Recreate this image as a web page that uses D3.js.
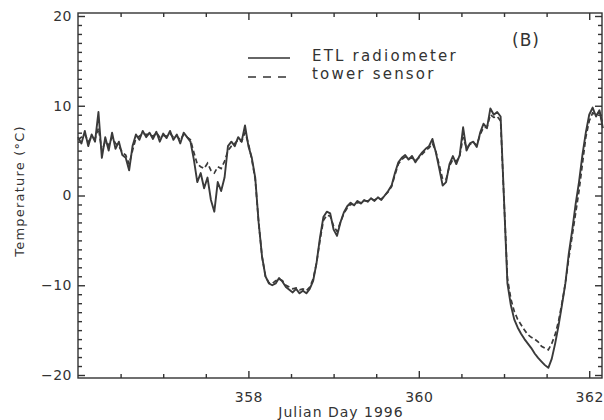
<!DOCTYPE html>
<html lang="en">
<head>
<meta charset="utf-8">
<title>Temperature, Julian Day 1996</title>
<script src="https://d3js.org/d3.v7.min.js"></script>
<style>
  body { margin: 0; background: #fff; }
  text { font-family: "DejaVu Sans", sans-serif; fill: #333; }
  .axis line { stroke: #333; stroke-width: 1.4; }
</style>
</head>
<body>
<div id="chart"></div>
<script>
// sampled every 0.04 day from day 356.00
var dayStart = 356
var dayStep = 0.04

var etl = [
  6.5, 5.8, 7.2, 5.5, 6.8, 6.0, 9.3, 4.2, 6.5, 5.0,
  7.0, 5.2, 6.0, 4.5, 4.2, 2.8, 5.5, 6.8, 6.2, 7.2,
  6.5, 7.0, 6.3, 7.1, 6.0, 6.9, 6.4, 7.2, 6.2, 6.8,
  5.8, 7.0, 6.5, 6.0, 4.0, 1.5, 2.5, 0.8, 2.0, -0.5,
  -1.8, 1.5, 0.5, 2.0, 5.5, 6.0, 5.5, 6.5, 6.0, 7.8,
  5.5, 4.2, 2.0, -3.0, -6.8, -9.0, -9.8, -10.0, -9.8, -9.2,
  -9.6, -10.2, -10.5, -10.8, -10.4, -10.9, -10.6, -10.9, -10.4, -9.5,
  -7.5, -4.7, -2.4, -1.8, -2.0, -3.8, -4.5, -3.0, -1.9, -1.2,
  -0.8, -1.1, -0.6, -0.9, -0.5, -0.7, -0.3, -0.6, -0.2, -0.5,
  0.0, 0.5, 1.1, 2.5, 3.7, 4.2, 4.5, 4.0, 4.4, 3.7,
  4.3, 4.8, 5.2, 5.5, 6.3, 4.8, 3.0, 1.1, 1.5, 3.5,
  4.4, 3.5, 4.5, 7.6, 5.0, 5.8, 6.0, 5.4, 7.0, 8.0,
  7.5, 9.7, 9.0, 9.3, 8.8, -0.5, -9.8, -12.2, -13.8, -14.7,
  -15.4, -16.0, -16.5, -17.0, -17.6, -18.1, -18.5, -18.9, -19.2, -18.2,
  -16.5, -14.5, -12.2, -9.8, -6.5, -3.9, -1.0, 1.5, 4.5, 7.0,
  9.0, 9.8, 8.8, 9.5, 7.5
]

var tower = [
  6.2, 6.5, 6.8, 6.0, 6.5, 6.3, 7.5, 5.0, 6.0, 5.6,
  6.5, 5.8, 5.5, 4.8, 4.5, 3.5, 5.0, 6.4, 6.6, 6.9,
  6.8, 6.8, 6.6, 7.0, 6.5, 6.7, 6.6, 6.9, 6.5, 6.6,
  6.2, 6.8, 6.5, 6.2, 4.8, 3.5, 3.2, 3.0, 3.6, 2.8,
  2.5, 3.2, 3.0, 3.8, 5.0, 5.5, 5.8, 6.2, 6.0, 7.0,
  5.8, 4.0, 1.8, -3.0, -6.8, -9.0, -9.7, -9.8, -9.5, -9.3,
  -9.5, -10.0, -10.2, -10.4, -10.3, -10.5, -10.4, -10.6, -10.2, -9.3,
  -7.5, -5.0, -2.8, -2.2, -2.3, -3.4, -4.0, -3.0, -2.0, -1.4,
  -1.0, -1.0, -0.8, -0.8, -0.6, -0.6, -0.4, -0.5, -0.3, -0.4,
  0.0, 0.4, 1.0, 2.3, 3.5, 4.0, 4.3, 4.1, 4.2, 3.9,
  4.2, 4.6, 5.0, 5.3, 5.8, 4.9, 3.4, 1.8, 1.8, 3.3,
  4.0, 3.8, 4.4, 6.5, 5.3, 5.7, 5.9, 5.6, 6.8, 7.6,
  7.6, 9.0, 8.7, 8.8, 8.3, -0.5, -9.2, -11.5, -12.9, -13.8,
  -14.4, -15.0, -15.5, -15.8, -16.0, -16.3, -16.8, -17.0, -17.2, -16.5,
  -15.5, -14.0, -12.0, -9.8, -7.0, -4.5, -2.0, 0.5, 3.5, 6.5,
  8.3, 9.2, 9.0, 9.3, 8.0
]

var xMajor = [358, 360, 362]
var yMajor = [-20, -10, 0, 10, 20]
var seriesNames = ["ETL radiometer", "tower sensor"]

var w = 604
var h = 420
var plotL = 78, plotR = 602, plotT = 13, plotB = 378

var svg = d3.select("#chart")
  .append("svg")
  .attr("width", w)
  .attr("height", h)

var xScale = d3.scaleLinear()
  .domain([356, 362.15])
  .range([plotL, plotR])

var yScale = d3.scaleLinear()
  .domain([-20, 20])
  .range([375, 16])

var xMinor = d3.range(356.5, 362.1, 0.5).filter(function(d){ return xMajor.indexOf(d) < 0 })
var yMinor = d3.range(-20, 21, 1).filter(function(d){ return yMajor.indexOf(d) < 0 })

function tickAxis(axisFn, scale, trans, values, size, labels) {
  var g = svg.append("g")
    .attr("class", "axis")
    .attr("transform", trans)
    .call(axisFn(scale).tickValues(values).tickSize(size).tickPadding(8)
      .tickFormat(labels ? d3.format("d") : ""))
  g.select(".domain").remove()
  return g
}

// bottom + top
var gb = tickAxis(d3.axisBottom, xScale, "translate(0," + plotB + ")", xMajor, -7, true)
gb.selectAll("text").attr("y", 14).attr("font-size", 14).attr("font-family", "DejaVu Sans")
  .attr("letter-spacing", 0.5)
tickAxis(d3.axisBottom, xScale, "translate(0," + plotB + ")", xMinor, -4, false)
tickAxis(d3.axisTop, xScale, "translate(0," + plotT + ")", xMajor, -7, false)
tickAxis(d3.axisTop, xScale, "translate(0," + plotT + ")", xMinor, -4, false)

// left + right
var gl = tickAxis(d3.axisLeft, yScale, "translate(" + plotL + ",0)", yMajor, -7, true)
gl.selectAll("text").attr("x", -6).attr("font-size", 14).attr("font-family", "DejaVu Sans")
  .attr("letter-spacing", 0.5)
  .text(function(d){ return d < 0 ? "\u2212" + Math.abs(d) : d })
tickAxis(d3.axisLeft, yScale, "translate(" + plotL + ",0)", yMinor, -4, false)
tickAxis(d3.axisRight, yScale, "translate(" + plotR + ",0)", yMajor, -7, false)
tickAxis(d3.axisRight, yScale, "translate(" + plotR + ",0)", yMinor, -4, false)

svg.append("rect")
  .attr("x", plotL).attr("y", plotT)
  .attr("width", plotR - plotL).attr("height", plotB - plotT)
  .attr("fill", "none").attr("stroke", "#333").attr("stroke-width", 1.4)

var line = d3.line()
  .x(function(d, i){ return xScale(dayStart + i * dayStep) })
  .y(function(d){ return yScale(d) })

svg.append("path")
  .datum(tower)
  .attr("d", line)
  .attr("fill", "none")
  .attr("stroke", "#3a3a3a")
  .attr("stroke-width", 1.7)
  .attr("stroke-dasharray", "5,3")

svg.append("path")
  .datum(etl)
  .attr("d", line)
  .attr("fill", "none")
  .attr("stroke", "#3a3a3a")
  .attr("stroke-width", 1.9)
  .attr("stroke-linejoin", "round")

// legend
var legend = svg.append("g")
legend.append("line").attr("x1", 248).attr("x2", 290).attr("y1", 58).attr("y2", 58)
  .attr("stroke", "#333").attr("stroke-width", 1.6)
legend.append("line").attr("x1", 248).attr("x2", 290).attr("y1", 77).attr("y2", 77)
  .attr("stroke", "#333").attr("stroke-width", 1.6).attr("stroke-dasharray", "8,7")
legend.selectAll("text.lab")
  .data(seriesNames)
  .enter()
  .append("text")
  .attr("class", "lab")
  .attr("x", 312)
  .attr("y", function(d, i){ return 61 + i * 18 })
  .attr("font-size", 15)
  .attr("letter-spacing", 2.2)
  .text(function(d){ return d })

svg.append("text")
  .attr("x", 512).attr("y", 46)
  .attr("font-size", 17)
  .attr("letter-spacing", 1)
  .text("(B)")

svg.append("text")
  .attr("x", 341).attr("y", 417)
  .attr("text-anchor", "middle")
  .attr("font-size", 14)
  .attr("letter-spacing", 1)
  .text("Julian Day 1996")

svg.append("text")
  .attr("transform", "translate(24,191) rotate(-90)")
  .attr("text-anchor", "middle")
  .attr("font-size", 13)
  .attr("letter-spacing", 1.2)
  .text("Temperature (\u00B0C)")
</script>
</body>
</html>
